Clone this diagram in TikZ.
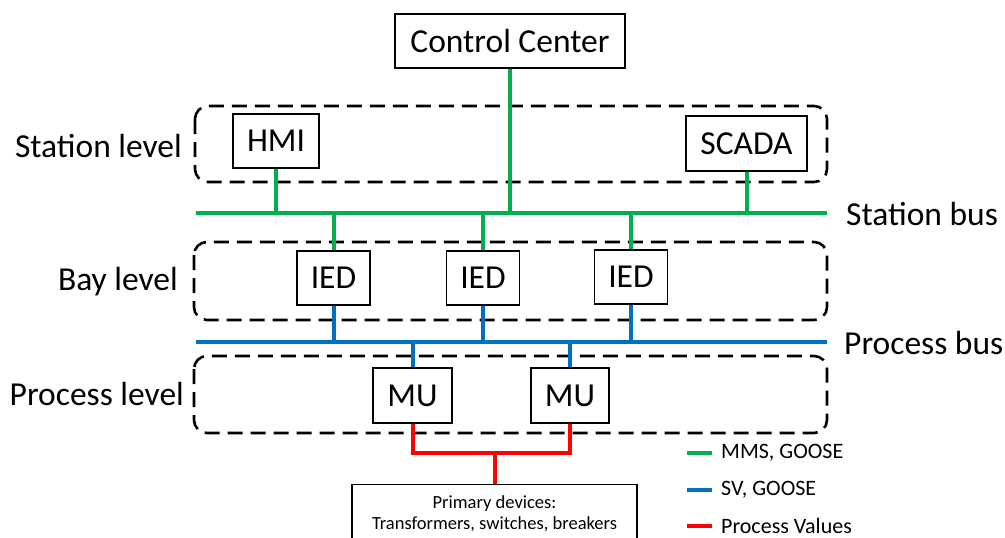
\documentclass[tikz,border=0pt]{standalone}
\usepackage{fontspec}
\setmainfont{Carlito}
\definecolor{mmsgreen}{HTML}{00B050}
\definecolor{svblue}{HTML}{0070C0}
\definecolor{pvred}{HTML}{FF0000}
\tikzset{
  devbox/.style={draw, line width=1.3pt, inner sep=0pt, align=center,
    font=\fontsize{33.5}{38}\selectfont},
  levelbox/.style={draw, line width=2.6pt, dash pattern=on 15pt off 8pt,
    rounded corners=13pt},
  mmsline/.style={mmsgreen, line width=4pt},
  svline/.style={svblue, line width=4pt},
  pvline/.style={pvred, line width=4pt},
  biglabel/.style={inner sep=0pt, font=\fontsize{33.5}{38}\selectfont},
  legtext/.style={inner sep=0pt, anchor=west, font=\fontsize{22}{24}\selectfont},
}
\begin{document}
\begin{tikzpicture}[x=1pt, y=-1pt]
\useasboundingbox (0,0) rectangle (1005,538);
\clip (0,0) rectangle (1005,538);

% level frames
\draw[levelbox] (195,106) rectangle (827,182);
\draw[levelbox] (194,242) rectangle (827,320);
\draw[levelbox] (194,356) rectangle (827,433);

% level labels
\node[biglabel, anchor=east] (lstation) at (182,146) {Station level};
\node[biglabel, anchor=east] (lbay) at (178,282) {Bay level};
\node[biglabel, anchor=east] (lprocess) at (184,394) {Process level};

% devices
\node[devbox, minimum width=230pt, minimum height=54pt] (cc) at (510,41) {Control Center};
\node[devbox, minimum width=86pt, minimum height=54pt] (hmi) at (276,141) {HMI};
\node[devbox, minimum width=121pt, minimum height=55pt] (scada) at (746.5,143.5) {SCADA};
\node[devbox, minimum width=73pt, minimum height=54pt] (ied1) at (333.5,278) {IED};
\node[devbox, minimum width=73pt, minimum height=54pt] (ied2) at (483,278) {IED};
\node[devbox, minimum width=73pt, minimum height=54pt] (ied3) at (631,277) {IED};
\node[devbox, minimum width=79pt, minimum height=55pt] (mu1) at (412.5,395.5) {MU};
\node[devbox, minimum width=78pt, minimum height=55pt] (mu2) at (570,395.5) {MU};
\node[devbox, anchor=north, minimum width=285pt, minimum height=70pt,
  font=\fontsize{18.5}{23}\selectfont, text depth=0pt] (prim) at (494.5,484)
  {\raisebox{14pt}{\shortstack{Primary devices:\\[3pt]Transformers, switches, breakers}}};

% buses
\coordinate (sbL) at (196,213);
\coordinate (sbR) at (827,213);
\coordinate (pbL) at (196,342);
\coordinate (pbR) at (827,342);
\draw[mmsline] (sbL) -- (sbR);
\draw[svline] (pbL) -- (pbR);
\node[biglabel, anchor=west] (lsbus) at (846,214) {Station bus};
\node[biglabel, anchor=west] (lpbus) at (844,343) {Process bus};

% station bus drops
\draw[mmsline] (cc.south) -- (cc.south |- sbL);
\draw[mmsline] (hmi.south) -- (hmi.south |- sbL);
\draw[mmsline] (scada.south) -- (scada.south |- sbL);
\draw[mmsline] (ied1.north) -- (ied1.north |- sbL);
\draw[mmsline] (ied2.north) -- (ied2.north |- sbL);
\draw[mmsline] (ied3.north) -- (ied3.north |- sbL);

% process bus drops
\draw[svline] (ied1.south) -- (ied1.south |- pbL);
\draw[svline] (ied2.south) -- (ied2.south |- pbL);
\draw[svline] (ied3.south) -- (ied3.south |- pbL);
\draw[svline] (mu1.north) -- (mu1.north |- pbL);
\draw[svline] (mu2.north) -- (mu2.north |- pbL);

% process values to primary equipment
\coordinate (pvj) at (494.5,453);
\draw[pvline, line join=miter] (mu1.south) |- (pvj) -| (mu2.south);
\draw[pvline] (pvj) -- (prim.north);

% legend
\coordinate (g1) at (687,453);
\coordinate (g2) at (712,453);
\coordinate (b1) at (687,490);
\coordinate (b2) at (712,490);
\coordinate (r1) at (687,526);
\coordinate (r2) at (712,526);
\draw[mmsline] (g1) -- (g2);
\draw[svline] (b1) -- (b2);
\draw[pvline] (r1) -- (r2);
\node[legtext] (tg) at (721,453) {MMS, GOOSE};
\node[legtext] (tb) at (721,490) {SV, GOOSE};
\node[legtext] (tr) at (721,526) {Process Values};
\end{tikzpicture}
\end{document}
